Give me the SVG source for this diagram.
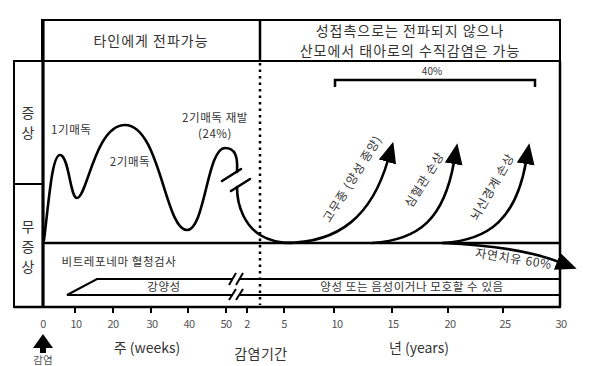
<svg xmlns="http://www.w3.org/2000/svg" width="600" height="366" viewBox="0 0 600 366">
<defs>
<style>
text{font-family:"Noto Sans CJK KR","Noto Sans",sans-serif;fill:#333;text-anchor:middle}
.ln{stroke:#000;fill:none;stroke-width:2.5}
.th{stroke:#000;fill:none;stroke-width:2}
.crv{stroke:#000;fill:none;stroke-width:2.6;stroke-linecap:round}
.hd{font-size:14px;letter-spacing:1px}
.sm{font-size:11.5px;letter-spacing:0.6px}
.rt{font-size:12px;letter-spacing:0.8px}
.tk{font-size:11px;fill:#555;letter-spacing:-0.5px}
.ax{font-size:14px}
</style>
<marker id="ah" markerUnits="userSpaceOnUse" markerWidth="22" markerHeight="20" refX="2" refY="10" orient="auto">
<path d="M0,1 L21,10 L0,19 Z" fill="#000"/>
</marker>
</defs>
<rect width="600" height="366" fill="#fff"/>

<g id="header">
<rect x="42" y="20" width="518" height="41" class="th"/>
<line x1="260" y1="20" x2="260" y2="61" class="ln"/>
<text x="151" y="46" class="hd">타인에게 전파가능</text>
<text x="410" y="36" class="hd">성접촉으로는 전파되지 않으나</text>
<text x="410" y="56" class="hd">산모에서 태아로의 수직감염은 가능</text>
</g>

<g id="frame">
<rect x="14" y="61" width="29" height="246" class="th"/>
<line x1="14" y1="184" x2="43" y2="184" class="th"/>
<line x1="43" y1="20" x2="43" y2="307" stroke="#000" stroke-width="3.2"/>
<line x1="43" y1="61" x2="560" y2="61" class="th"/>
<line x1="560" y1="61" x2="560" y2="307" class="ln"/>
<line x1="14" y1="307" x2="561" y2="307" class="ln"/>
<line x1="43" y1="243" x2="560" y2="243" class="ln"/>
<line x1="260" y1="63" x2="260" y2="305" stroke="#000" stroke-width="2.5" stroke-dasharray="2.5,4"/>
</g>

<g id="side-labels">
<text x="28" y="118" class="ax">증</text>
<text x="28" y="138" class="ax">상</text>
<text x="28" y="232" class="ax">무</text>
<text x="28" y="252" class="ax">증</text>
<text x="28" y="272" class="ax">상</text>
</g>

<g id="connectors">
<path class="crv" d="M44,240 C49,200 52,155 60,155 C69,155 70,198 77,198 C87,198 95,125 125,125 C160,125 165,230 187,230 C205,230 207,148 225,148 C235,148 238,156 237,172"/>
<path class="crv" d="M237,187 C237,208 246,226 260,235 C270,241 280,243 292,243"/>
<line x1="222" y1="181" x2="241" y2="169" class="crv"/>
<line x1="231" y1="191" x2="250" y2="179" class="crv"/>
<path class="crv" d="M285,243 C340,243 372,215 388,160" marker-end="url(#ah)"/>
<path class="crv" d="M372,243 C420,240 444,218 454,162" marker-end="url(#ah)"/>
<path class="crv" d="M443,243 C490,240 516,218 526,162" marker-end="url(#ah)"/>
<path class="crv" d="M443,243 C490,245 528,250 559,262" marker-end="url(#ah)"/>
</g>

<g id="curve-labels">
<text x="51" y="134" class="sm" style="text-anchor:start">1기매독</text>
<text x="130" y="166" class="sm">2기매독</text>
<text x="215" y="122" class="sm">2기매독 재발</text>
<text x="215" y="138" class="sm">(24%)</text>
<text class="rt" transform="translate(356,181) rotate(-58)">고무종 (양성 종양)</text>
<text class="rt" transform="translate(428,182) rotate(-58)">심혈관 손상</text>
<text class="rt" transform="translate(496,189) rotate(-60)">뇌신경계 손상</text>
<text class="rt" transform="translate(513,263) rotate(9)">자연치유 60%</text>
</g>

<g id="bracket">
<path d="M335,87 L335,80 L535,80 L535,87" class="ln"/>
<text x="432" y="75" style="font-size:10px">40%</text>
</g>

<g id="serology">
<text x="119" y="266" class="sm">비트레포네마 혈청검사</text>
<path d="M560,279 L97,279 L67,295 L560,295" class="th"/>
<rect x="233" y="276" width="7" height="22" fill="#fff"/>
<line x1="229" y1="285" x2="236" y2="273" class="th"/>
<line x1="236" y1="285" x2="243" y2="273" class="th"/>
<line x1="229" y1="300" x2="236" y2="289" class="th"/>
<line x1="236" y1="300" x2="243" y2="289" class="th"/>
<text x="164" y="291" class="sm">강양성</text>
<text x="412" y="291" class="sm">양성 또는 음성이거나 모호할 수 있음</text>
</g>

<g id="axis">
<g class="th">
<line x1="75" y1="307" x2="75" y2="313"/>
<line x1="113" y1="307" x2="113" y2="313"/>
<line x1="151" y1="307" x2="151" y2="313"/>
<line x1="188" y1="307" x2="188" y2="313"/>
<line x1="226" y1="307" x2="226" y2="313"/>
<line x1="247" y1="307" x2="247" y2="313"/>
<line x1="284" y1="307" x2="284" y2="313"/>
<line x1="334" y1="307" x2="334" y2="313"/>
<line x1="392" y1="307" x2="392" y2="313"/>
<line x1="448" y1="307" x2="448" y2="313"/>
<line x1="503" y1="307" x2="503" y2="313"/>
</g>
<text x="43" y="328" class="tk">0</text>
<text x="76" y="328" class="tk">10</text>
<text x="113" y="328" class="tk">20</text>
<text x="152" y="328" class="tk">30</text>
<text x="189" y="328" class="tk">40</text>
<text x="226" y="328" class="tk">50</text>
<text x="247" y="328" class="tk">2</text>
<text x="284" y="328" class="tk">5</text>
<text x="337" y="328" class="tk">10</text>
<text x="393" y="328" class="tk">15</text>
<text x="450" y="328" class="tk">20</text>
<text x="505" y="328" class="tk">25</text>
<text x="561" y="328" class="tk">30</text>
<text x="147" y="353" class="ax">주 (weeks)</text>
<text x="261" y="359" class="ax" style="letter-spacing:0.5px">감염기간</text>
<text x="419" y="353" class="ax">년 (years)</text>
<path d="M43,334 L53,348 L33,348 Z" fill="#000"/>
<rect x="40" y="347" width="6" height="6" fill="#000"/>
<text x="43" y="364" style="font-size:10.5px;fill:#555">감염</text>
</g>
</svg>
